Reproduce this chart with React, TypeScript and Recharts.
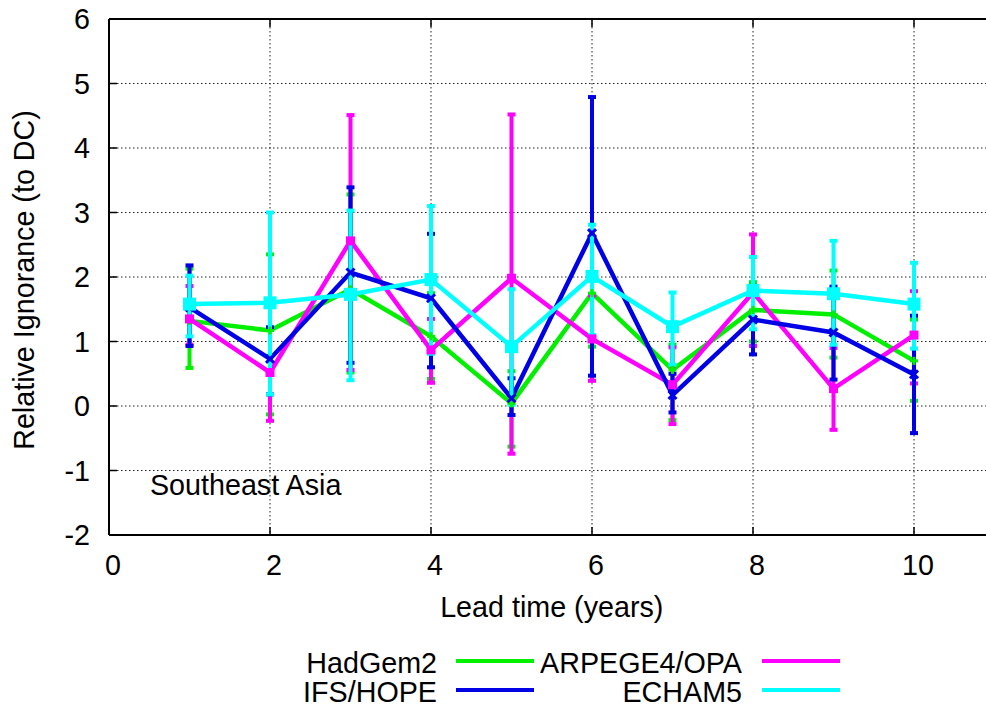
import { CartesianGrid, ComposedChart, ErrorBar, Line, ReferenceDot, ReferenceLine, XAxis, YAxis } from 'recharts';

// lead time (years)
const leadTime = [1, 2, 3, 4, 5, 6, 7, 8, 9, 10];

// HadGem2
const hadGem2 = [1.32, 1.17, 1.81, 1.08, 0.04, 1.75, 0.56, 1.49, 1.42, 0.7];
const hadGem2Low = [0.59, -0.13, 0.52, 0.42, -0.63, 0.92, -0.22, 1.0, 0.75, 0.08];
const hadGem2High = [2.13, 2.35, 3.28, 1.75, 0.54, 2.6, 0.95, 1.92, 2.1, 1.34];

// ARPEGE4/OPA
const arpege = [1.35, 0.52, 2.56, 0.87, 1.98, 1.04, 0.33, 1.76, 0.27, 1.1];
const arpegeLow = [0.95, -0.23, 0.56, 0.36, -0.74, 0.39, -0.28, 0.93, -0.37, 0.35];
const arpegeHigh = [1.86, 1.2, 4.51, 1.35, 4.52, 1.71, 0.91, 2.66, 0.9, 1.78];

// IFS/HOPE
const ifsHope = [1.53, 0.73, 2.07, 1.67, 0.12, 2.68, 0.17, 1.34, 1.14, 0.49];
const ifsHopeLow = [0.93, 0.18, 0.67, 0.6, -0.14, 0.47, -0.1, 0.8, 0.41, -0.42];
const ifsHopeHigh = [2.18, 1.22, 3.39, 2.67, 0.43, 4.79, 0.5, 1.85, 1.85, 1.4];

// ECHAM5
const echam5 = [1.58, 1.6, 1.73, 1.96, 0.92, 2.01, 1.23, 1.79, 1.74, 1.58];
const echam5Low = [1.08, 0.18, 0.4, 0.81, 0.02, 1.1, 0.64, 1.19, 0.95, 0.89];
const echam5High = [2.02, 3.0, 3.03, 3.1, 1.81, 2.81, 1.76, 2.31, 2.56, 2.22];

const xTicks = [0, 2, 4, 6, 8, 10];
const yTicks = [-2, -1, 0, 1, 2, 3, 4, 5, 6];

const FONT = '"Liberation Sans", Arial, Helvetica, sans-serif';
const FS = 28.7;
const LEFT = 109;
const TOP = 19;
const PLOT_H = 516;
const PLOT_W = 885.5;
const CHART_W = 1000;
const CHART_H = 709;

type Marker = 'plus' | 'cross' | 'square' | 'bigSquare';

const series = [
  { key: 'hadgem2', name: 'HadGem2', color: '#00f000', values: hadGem2, low: hadGem2Low, high: hadGem2High, marker: 'plus' as Marker },
  { key: 'arpege', name: 'ARPEGE4/OPA', color: '#ff00ff', values: arpege, low: arpegeLow, high: arpegeHigh, marker: 'square' as Marker },
  { key: 'ifs', name: 'IFS/HOPE', color: '#0000e6', values: ifsHope, low: ifsHopeLow, high: ifsHopeHigh, marker: 'cross' as Marker },
  { key: 'echam5', name: 'ECHAM5', color: '#00ffff', values: echam5, low: echam5Low, high: echam5High, marker: 'bigSquare' as Marker },
];

// legend layout: row 1 = HadGem2, ARPEGE4/OPA ; row 2 = IFS/HOPE, ECHAM5
const legendOrder = ['hadgem2', 'arpege', 'ifs', 'echam5'];

const data = leadTime.map((t, i) => {
  const row: Record<string, number | number[]> = { t };
  series.forEach((s) => {
    row[s.key] = s.values[i];
    row[s.key + 'Err'] = [s.values[i] - s.low[i], s.high[i] - s.values[i]];
  });
  return row;
});

const makeDot = (marker: Marker, color: string) => (props: any) => {
  const { cx, cy, index } = props;
  if (cx == null || cy == null) return <g key={index} />;
  if (marker === 'bigSquare') return <rect key={index} x={cx - 6.5} y={cy - 6.5} width={13} height={13} fill={color} />;
  if (marker === 'square') return <rect key={index} x={cx - 4.5} y={cy - 4.5} width={9} height={9} fill={color} />;
  if (marker === 'cross')
    return (
      <g key={index} stroke={color} strokeWidth={3}>
        <line x1={cx - 4} y1={cy - 4} x2={cx + 4} y2={cy + 4} />
        <line x1={cx - 4} y1={cy + 4} x2={cx + 4} y2={cy - 4} />
      </g>
    );
  return (
    <g key={index} stroke={color} strokeWidth={3}>
      <line x1={cx - 4} y1={cy} x2={cx + 4} y2={cy} />
      <line x1={cx} y1={cy - 4} x2={cx} y2={cy + 4} />
    </g>
  );
};

const XTick = (props: any) => {
  const { x, payload } = props;
  const y = TOP + PLOT_H;
  return (
    <g>
      <line x1={x} y1={y} x2={x} y2={y - 8} stroke="#000" strokeWidth={1.5} />
      <line x1={x} y1={TOP} x2={x} y2={TOP + 8} stroke="#000" strokeWidth={1.5} />
      <text x={x + 4} y={y + 40} textAnchor="middle" fontSize={FS} fill="#000" fontFamily={FONT}>
        {payload.value}
      </text>
    </g>
  );
};

const YTick = (props: any) => {
  const { y, payload } = props;
  return (
    <g>
      <line x1={LEFT} y1={y} x2={LEFT + 8} y2={y} stroke="#000" strokeWidth={1.5} />
      <text x={LEFT - 19} y={y} dy="0.355em" textAnchor="end" fontSize={FS} fill="#000" fontFamily={FONT}>
        {payload.value}
      </text>
    </g>
  );
};

export default function App() {
  const byKey = Object.fromEntries(series.map((s) => [s.key, s]));
  return (
    <div
      style={{
        position: 'absolute',
        left: 0,
        top: 0,
        width: 986,
        height: 709,
        overflow: 'hidden',
        background: '#fff',
        fontFamily: FONT,
      }}
    >
      <ComposedChart
        width={CHART_W}
        height={CHART_H}
        data={data}
        margin={{ top: TOP, left: LEFT - 1, right: CHART_W - LEFT - PLOT_W, bottom: CHART_H - TOP - PLOT_H - 1 }}
      >
        <CartesianGrid stroke="#222" strokeWidth={1} strokeDasharray="1.5 2.5" />
        <XAxis
          dataKey="t"
          type="number"
          domain={[0, 11]}
          ticks={xTicks}
          interval={0}
          height={1}
          tickSize={0}
          tickMargin={0}
          tickLine={false}
          axisLine={{ stroke: '#000', strokeWidth: 2 }}
          tick={<XTick />}
          label={() => (
            <text x={LEFT + PLOT_W / 2} y={TOP + PLOT_H + 82} textAnchor="middle" fontSize={FS} fill="#000" fontFamily={FONT}>
              Lead time (years)
            </text>
          )}
        />
        <YAxis
          type="number"
          domain={[-2, 6]}
          ticks={yTicks}
          interval={0}
          width={1}
          tickSize={0}
          tickMargin={0}
          tickLine={false}
          axisLine={{ stroke: '#000', strokeWidth: 2 }}
          tick={<YTick />}
          label={() => (
            <text
              x={33.5}
              y={TOP + PLOT_H / 2 + 3}
              textAnchor="middle"
              fontSize={FS}
              fill="#000"
              fontFamily={FONT}
              transform={`rotate(-90, 33.5, ${TOP + PLOT_H / 2 + 3})`}
            >
              Relative Ignorance (to DC)
            </text>
          )}
        />
        <ReferenceLine y={6} stroke="#000" strokeWidth={2} />
        <ReferenceDot
          x={0.447}
          y={-1.225}
          r={0}
          fill="none"
          stroke="none"
          label={{ value: 'Southeast Asia', position: 'right', fill: '#000', fontSize: FS, fontFamily: FONT }}
        />
        {series.map((s) => (
          <Line
            key={s.key}
            dataKey={s.key}
            type="linear"
            stroke={s.color}
            strokeWidth={4.5}
            dot={makeDot(s.marker, s.color)}
            activeDot={false}
            isAnimationActive={false}
          >
            <ErrorBar dataKey={s.key + 'Err'} direction="y" width={4} stroke={s.color} strokeWidth={4} />
          </Line>
        ))}
      </ComposedChart>
      {legendOrder.map((k, i) => {
        const s = byKey[k];
        const col = i % 2;
        const row = Math.floor(i / 2);
        const textRight = col === 0 ? 437 : 742;
        const lineLeft = col === 0 ? 456 : 762;
        const cy = row === 0 ? 663 : 692;
        return (
          <div key={k}>
            <div
              style={{
                position: 'absolute',
                right: 986 - textRight,
                top: cy - 16,
                fontSize: FS,
                lineHeight: '32px',
                color: '#000',
                whiteSpace: 'nowrap',
              }}
            >
              {s.name}
            </div>
            <div
              style={{
                position: 'absolute',
                left: lineLeft,
                top: cy - 4,
                width: 78,
                height: 4,
                background: s.color,
              }}
            />
          </div>
        );
      })}
    </div>
  );
}
